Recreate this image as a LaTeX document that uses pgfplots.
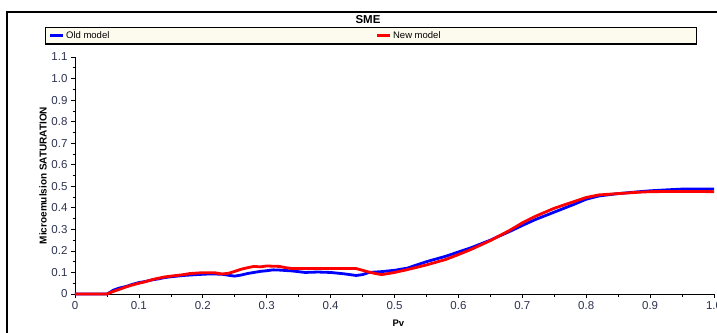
\documentclass[border=0pt]{standalone}
\usepackage{pgfplots}
\pgfplotsset{compat=1.18}
\usepackage{fontspec}
\setmainfont{Liberation Sans}
\definecolor{tickc}{RGB}{45,50,80}
\definecolor{cream}{RGB}{253,250,238}
\begin{document}
\begin{tikzpicture}[x=1pt,y=1pt]
\path[use as bounding box] (-75,-38) rectangle (642,294);
\clip (-75,-38) rectangle (642,294);
\draw[line width=1.3pt] (-68,282) rectangle (720,-60);
\node[font=\bfseries\fontsize{11.5}{12}\selectfont] at (293,274) {SME};
\begin{axis}[
  at={(0,0)}, anchor=origin,
  scale only axis, width=639pt, height=237pt,
  xmin=0, xmax=1, ymin=0, ymax=1.1,
  axis lines*=left,
  axis line style={line width=0.8pt},
  xtick={0,0.1,...,1.0},
  xticklabels={0,0.1,0.2,0.3,0.4,0.5,0.6,0.7,0.8,0.9,1.0},
  ytick={0,0.1,...,1.1},
  yticklabels={0,0.1,0.2,0.3,0.4,0.5,0.6,0.7,0.8,0.9,1.0,1.1},
  minor tick num=1,
  tick align=outside,
  major tick length=4pt, minor tick length=2.5pt,
  tick style={black, line width=0.7pt},
  ticklabel style={font=\fontsize{11.5}{12}\selectfont, text=tickc},
  /pgf/number format/assume math mode=true,
  xlabel={\textbf{Pv}}, xlabel style={font=\fontsize{9.5}{10}\selectfont, at={(axis description cs:0.506,-0.122)}, anchor=center},
  ylabel={\textbf{Microemulsion SATURATION}}, ylabel style={font=\fontsize{10}{11}\selectfont, at={(axis description cs:-0.05,0.5)}, anchor=center},
  legend columns=2,
  legend cell align=left,
  legend image code/.code={\draw[#1, line width=3pt] (0pt,0pt) -- (13pt,0pt);},
  legend style={at={(axis description cs:-0.047,1.1266)}, anchor=north west,
    draw=black, line width=1.3pt, fill=cream, inner xsep=3pt, inner ysep=2.5pt,
    font=\fontsize{9.5}{10}\selectfont, column sep=0pt,
    nodes={inner sep=1.5pt}},
  clip=false,
]
\addplot[blue, line width=2.8pt] coordinates {
(0,0)(0.05,0)(0.055,0.008)(0.06,0.018)(0.07,0.028)(0.08,0.035)(0.09,0.045)(0.1,0.053)(0.11,0.058)(0.12,0.065)(0.13,0.07)(0.14,0.076)(0.15,0.08)(0.17,0.086)(0.19,0.09)(0.21,0.093)(0.23,0.092)(0.24,0.087)(0.25,0.083)(0.26,0.088)(0.27,0.095)(0.28,0.1)(0.29,0.105)(0.3,0.108)(0.31,0.112)(0.32,0.111)(0.34,0.107)(0.36,0.1)(0.38,0.102)(0.4,0.1)(0.42,0.094)(0.43,0.09)(0.44,0.086)(0.45,0.09)(0.46,0.1)(0.48,0.104)(0.5,0.11)(0.52,0.12)(0.55,0.15)(0.58,0.175)(0.6,0.195)(0.62,0.215)(0.65,0.25)(0.68,0.29)(0.7,0.318)(0.72,0.345)(0.75,0.38)(0.78,0.415)(0.8,0.44)(0.82,0.455)(0.85,0.466)(0.88,0.474)(0.9,0.479)(0.93,0.484)(0.95,0.487)(1.0,0.487)
};
\addlegendentry{\makebox[308pt][l]{Old model}}
\addplot[red, line width=2.8pt] coordinates {
(0,0)(0.05,0)(0.06,0.012)(0.07,0.022)(0.08,0.033)(0.09,0.042)(0.1,0.05)(0.11,0.057)(0.12,0.066)(0.13,0.073)(0.14,0.079)(0.15,0.083)(0.17,0.09)(0.18,0.095)(0.2,0.099)(0.22,0.098)(0.23,0.093)(0.24,0.096)(0.25,0.105)(0.26,0.115)(0.27,0.122)(0.28,0.128)(0.29,0.126)(0.3,0.13)(0.32,0.128)(0.33,0.122)(0.34,0.118)(0.37,0.118)(0.4,0.118)(0.44,0.118)(0.45,0.11)(0.46,0.102)(0.47,0.095)(0.48,0.09)(0.5,0.1)(0.52,0.113)(0.55,0.135)(0.58,0.16)(0.6,0.183)(0.62,0.207)(0.65,0.248)(0.68,0.295)(0.7,0.33)(0.72,0.36)(0.75,0.398)(0.78,0.428)(0.8,0.448)(0.82,0.46)(0.85,0.466)(0.88,0.472)(0.9,0.475)(0.95,0.476)(1.0,0.475)
};
\addlegendentry{\makebox[299pt][l]{New model}}
\end{axis}
\end{tikzpicture}
\end{document}
